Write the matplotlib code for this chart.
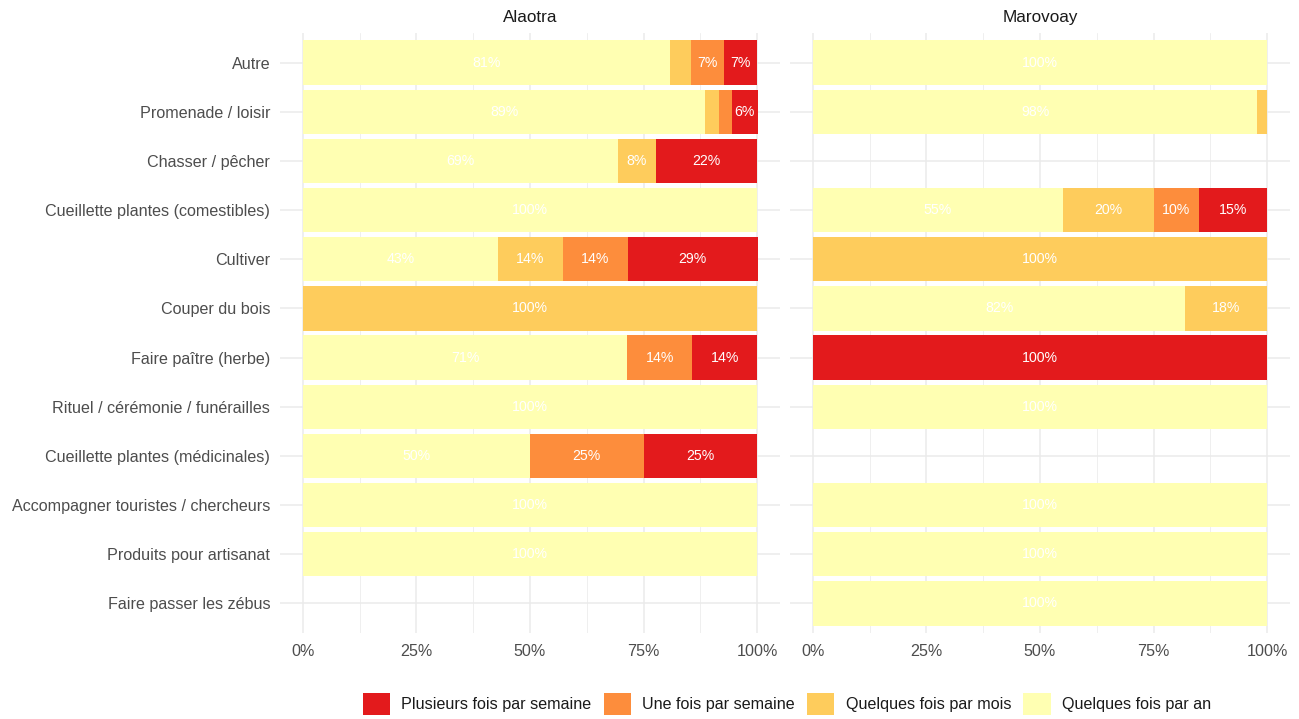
import numpy as np
import matplotlib
matplotlib.use("Agg")
import matplotlib.pyplot as plt
from matplotlib.patches import Patch

plt.rcParams['font.family'] = ['Liberation Sans', 'DejaVu Sans']

categories = ["Autre", "Promenade / loisir", "Chasser / pêcher",
              "Cueillette plantes (comestibles)", "Cultiver", "Couper du bois",
              "Faire paître (herbe)", "Rituel / cérémonie / funérailles",
              "Cueillette plantes (médicinales)", "Accompagner touristes / chercheurs",
              "Produits pour artisanat", "Faire passer les zébus"]
facets = ["Alaotra", "Marovoay"]
levels = ["Quelques fois par an", "Quelques fois par mois",
          "Une fois par semaine", "Plusieurs fois par semaine"]
colors = ["#FFFFB2", "#FECC5C", "#FD8D3C", "#E31A1C"]

nan = np.nan
# percentages per level: [an, mois, une semaine, plusieurs semaine]
alaotra = [
    [80.8, 4.7, 7.2, 7.3],
    [88.6, 2.9, 2.9, 5.7],
    [69.4, 8.3, 0.0, 22.2],
    [100, 0, 0, 0],
    [42.9, 14.3, 14.3, 28.6],
    [0, 100, 0, 0],
    [71.4, 0, 14.3, 14.3],
    [100, 0, 0, 0],
    [50, 0, 25, 25],
    [100, 0, 0, 0],
    [100, 0, 0, 0],
    [nan, nan, nan, nan],
]
marovoay = [
    [100, 0, 0, 0],
    [97.8, 2.2, 0, 0],
    [nan, nan, nan, nan],
    [55, 20, 10, 15],
    [0, 100, 0, 0],
    [82, 18, 0, 0],
    [0, 0, 0, 100],
    [100, 0, 0, 0],
    [nan, nan, nan, nan],
    [100, 0, 0, 0],
    [100, 0, 0, 0],
    [100, 0, 0, 0],
]
data = {"Alaotra": alaotra, "Marovoay": marovoay}

W, H = 1299, 719
fig = plt.figure(figsize=(W / 100, H / 100), dpi=100)
grid_c = "#EBEBEB"
text_c = "#4D4D4D"

panels = [(280, 780), (790, 1290)]
top_px, bot_px = 33, 633
n = len(categories)
ypos = np.arange(n)[::-1]

for k, (fac, (x0, x1)) in enumerate(zip(facets, panels)):
    ax = fig.add_axes([x0 / W, 1 - bot_px / H, (x1 - x0) / W, (bot_px - top_px) / H])
    ax.set_xlim(-5, 105)
    ax.set_ylim(-0.6, n - 1 + 0.6)
    for s in ax.spines.values():
        s.set_visible(False)
    ax.set_xticks([0, 25, 50, 75, 100])
    ax.set_xticks([12.5, 37.5, 62.5, 87.5], minor=True)
    ax.set_xticklabels(["0%", "25%", "50%", "75%", "100%"])
    ax.set_yticks(ypos)
    if k == 0:
        ax.set_yticklabels(categories)
    else:
        ax.set_yticklabels([])
    ax.tick_params(axis="both", which="both", length=0, labelsize=11.6, labelcolor=text_c)
    ax.tick_params(axis="y", pad=7)
    ax.tick_params(axis="x", pad=8)
    ax.grid(True, which="major", color=grid_c, lw=1.1)
    ax.grid(True, which="minor", axis="x", color=grid_c, lw=0.55)
    ax.set_axisbelow(True)
    vals = np.array(data[fac], dtype=float)
    for i in range(n):
        row = vals[i]
        if np.all(np.isnan(row)):
            continue
        left = 0.0
        for j in range(4):
            v = row[j]
            if v > 0:
                ax.barh(ypos[i], v, left=left, height=0.9, color=colors[j], lw=0)
                if v >= 5:
                    ax.text(left + v / 2, ypos[i], f"{v:.0f}%", ha="center", va="center",
                            color="white", fontsize=10.2)
                left += v
    ax.set_title(fac, fontsize=12.3, color="#1A1A1A", pad=8)

handles = [Patch(facecolor=colors[j], edgecolor="none", label=levels[j]) for j in [3, 2, 1, 0]]
fig.legend(handles=handles, loc="center", bbox_to_anchor=(0.6058, 1 - 704 / H), ncol=4,
           frameon=False, fontsize=11.6, handlelength=1.7, handleheight=1.7,
           handletextpad=0.7, columnspacing=0.75, labelcolor="#1A1A1A")

fig.savefig("out.png", dpi=100)
